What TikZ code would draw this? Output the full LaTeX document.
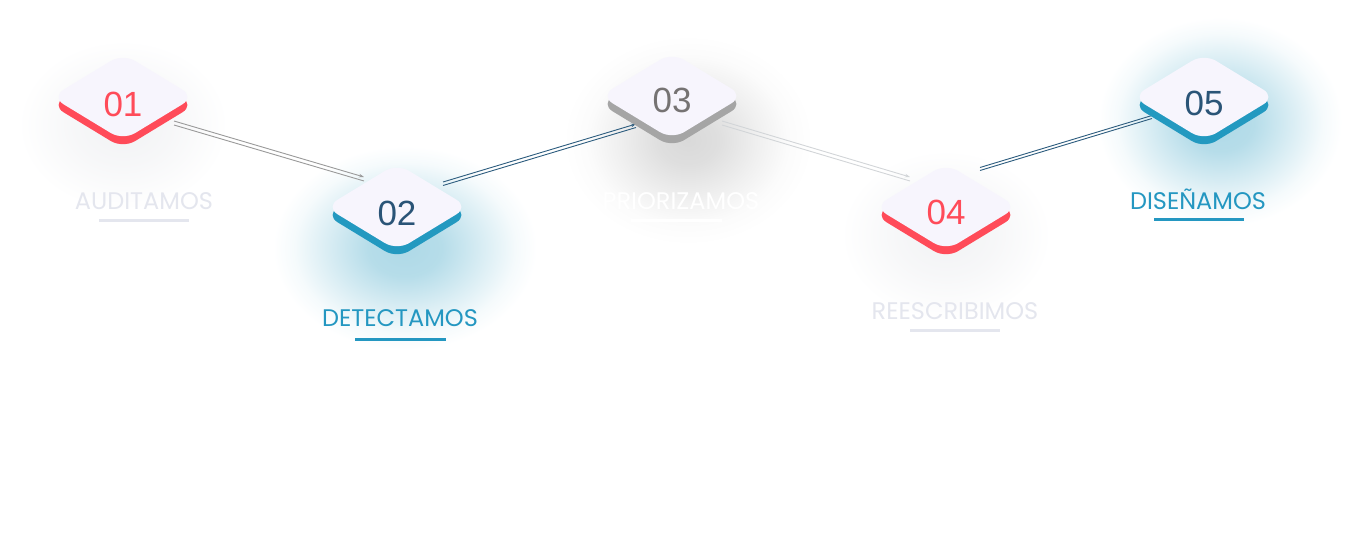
\documentclass[tikz,border=0pt]{standalone}
\usepackage{fontspec}
\setmainfont{Poppins}
\newfontfamily\numfont{Liberation Sans}
\usetikzlibrary{shapes.geometric,arrows.meta}
\definecolor{face}{HTML}{F7F5FD}
\definecolor{redc}{HTML}{FF4B59}
\definecolor{bluec}{HTML}{2399C0}
\definecolor{grayc}{HTML}{A5A5A5}
\definecolor{navy}{HTML}{2A5477}
\definecolor{numgray}{HTML}{767373}
\definecolor{lblgray}{HTML}{E4E6EE}
\definecolor{lblblue}{HTML}{2497C1}
\definecolor{glowb}{HTML}{AED9E7}
\definecolor{glowg}{HTML}{D9D9D9}
\definecolor{glowl}{HTML}{F1F2F4}
\definecolor{lineg}{HTML}{9A9A9A}
\definecolor{linel}{HTML}{D2D5D8}
\definecolor{linen}{HTML}{2C5C7E}
\pgfdeclareradialshading{glowblue}{\pgfpoint{0bp}{0bp}}{color(0bp)=(glowb); color(7bp)=(glowb!90!white); color(15bp)=(glowb!45!white); color(21bp)=(glowb!12!white); color(25bp)=(white); color(50bp)=(white)}
\pgfdeclareradialshading{glowgray}{\pgfpoint{0bp}{0bp}}{color(0bp)=(glowg); color(6bp)=(glowg!85!white); color(14bp)=(glowg!40!white); color(20bp)=(glowg!10!white); color(25bp)=(white); color(50bp)=(white)}
\pgfdeclareradialshading{glowlight}{\pgfpoint{0bp}{0bp}}{color(0bp)=(glowl); color(12bp)=(glowl!60!white); color(25bp)=(white); color(50bp)=(white)}
\tikzset{
  dbase/.style={diamond, minimum width=143, minimum height=87, inner sep=0pt, rounded corners=14pt},
  dface/.style={dbase, fill=face},
  dside/.style={dbase, fill=#1},
  num/.style={font=\numfont\fontsize{35}{40}\selectfont, text=#1, anchor=base, inner sep=0pt},
  lbl/.style={font=\fontsize{24}{28}\selectfont, text=#1, anchor=base, inner sep=0pt},
  ul/.style={line width=3pt, draw=#1},
  conn/.style={line width=0.9pt, draw=#1},
  conntip/.style={line width=0.9pt, draw=#1, -{Stealth[length=5pt,width=3.5pt]}},
}
\begin{document}
\begin{tikzpicture}[x=1pt,y=-1pt]
\useasboundingbox[fill=white] (0,0) rectangle (1371,543);
% glows and shadows
\shade[shading=glowlight] (123,125) ellipse (105 and 85);
\shade[shading=glowlight] (946,235) ellipse (105 and 85);
\shade[shading=glowblue] (405,248) ellipse (132 and 102);
\shade[shading=glowgray] (688,140) ellipse (125 and 105);
\shade[shading=glowblue] (1220,122) ellipse (122 and 105);
% connector end points
\coordinate (a12) at (174,123);
\coordinate (b12) at (364,179);
\coordinate (a23) at (443,184);
\coordinate (b23) at (636,126);
\coordinate (a34) at (722,123);
\coordinate (b34) at (910,179);
\coordinate (a45) at (980,169);
\coordinate (b45) at (1152,117);
% connectors (double thin lines)
\draw[conntip=lineg] ([yshift=2pt]a12) -- ([yshift=2pt]b12);
\draw[conn=lineg] ([yshift=-2pt]a12) -- ([yshift=-2pt]b12);
\draw[conntip=linen] ([yshift=2pt]a23) -- ([yshift=2pt]b23);
\draw[conn=linen] ([yshift=-1.5pt]a23) -- ([yshift=-1.5pt]b23);
\draw[conntip=linel] ([yshift=2pt]a34) -- ([yshift=2pt]b34);
\draw[conn=linel] ([yshift=-2pt]a34) -- ([yshift=-2pt]b34);
\draw[conn=linen] ([yshift=1.5pt]a45) -- ([yshift=1.5pt]b45);
\draw[conn=linen] ([yshift=-1.5pt]a45) -- ([yshift=-1.5pt]b45);
% diamonds
\node[dside=redc] (s1) at (123,105) {};
\node[dface] (f1) at (123,97) {};
\node[num=redc] (n1) at (123,116) {01};
\node[dside=bluec] (s2) at (397,215) {};
\node[dface] (f2) at (397,207) {};
\node[num=navy] (n2) at (397,225) {02};
\node[dside=grayc] (s3) at (672,104) {};
\node[dface] (f3) at (672,96) {};
\node[num=numgray] (n3) at (672,113) {03};
\node[dside=redc] (s4) at (946,215) {};
\node[dface] (f4) at (946,207) {};
\node[num=redc] (n4) at (946,224) {04};
\node[dside=bluec] (s5) at (1204,105) {};
\node[dface] (f5) at (1204,97) {};
\node[num=navy] (n5) at (1204,115) {05};
% labels
\node[lbl=lblgray] (l1) at (144,209.5) {AUDITAMOS};
\draw[ul=lblgray] (99,220) -- (189,220);
\node[lbl=lblblue] (l2) at (400,326.5) {DETECTAMOS};
\draw[ul=lblblue] (355,339) -- (446,339);
\node[lbl=white] (l3) at (681,209.5) {PRIORIZAMOS};
\draw[ul=white] (631,220) -- (722,220);
\node[lbl=lblgray] (l4) at (955,319.5) {REESCRIBIMOS};
\draw[ul=lblgray] (910,330) -- (1000,330);
\node[lbl=lblblue] (l5) at (1198,209.5) {DISEÑAMOS};
\draw[ul=lblblue] (1154,219) -- (1244,219);
\end{tikzpicture}
\end{document}
